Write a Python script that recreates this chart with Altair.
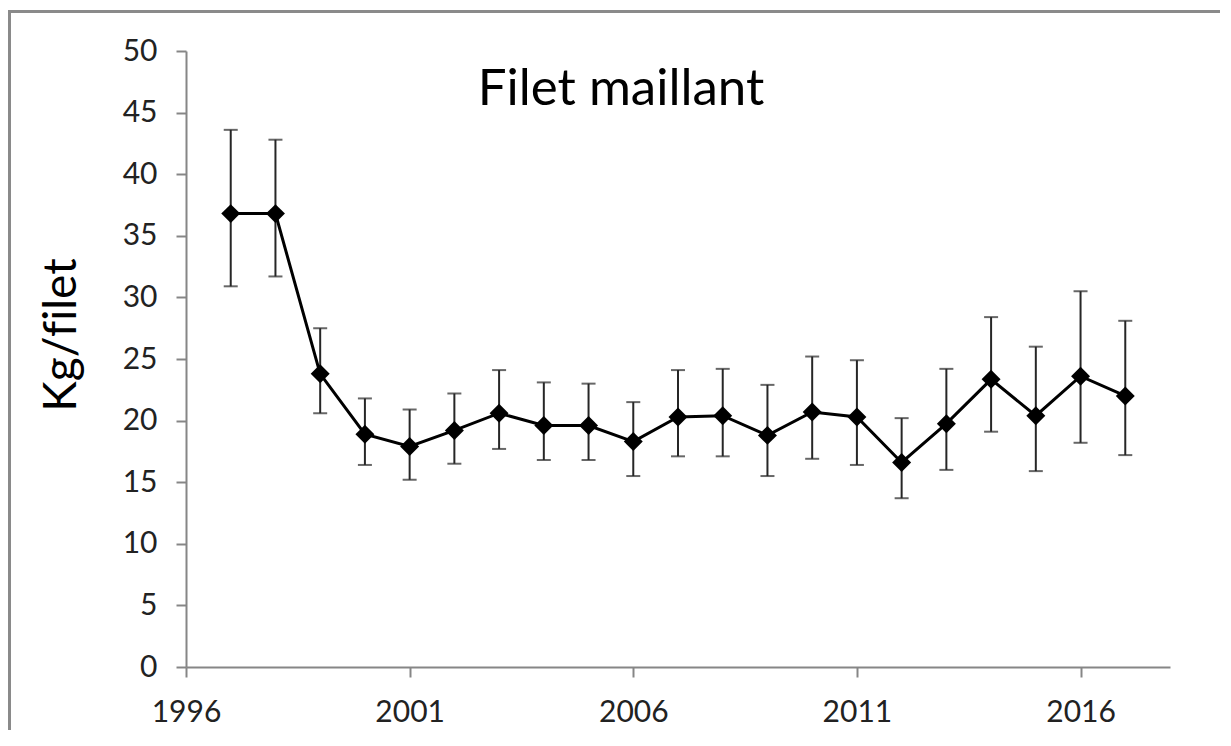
import altair as alt
import pandas as pd

# ---- data ----
years = [1997, 1998, 1999, 2000, 2001, 2002, 2003, 2004, 2005, 2006, 2007,
         2008, 2009, 2010, 2011, 2012, 2013, 2014, 2015, 2016, 2017]
values = [36.8, 36.8, 23.8, 18.9, 17.9, 19.2, 20.6, 19.6, 19.6, 18.3, 20.3,
          20.4, 18.8, 20.7, 20.3, 16.6, 19.75, 23.35, 20.4, 23.6, 22.0]
upper = [43.6, 42.8, 27.5, 21.8, 20.9, 22.2, 24.1, 23.1, 23.0, 21.5, 24.1,
         24.2, 22.9, 25.2, 24.9, 20.2, 24.2, 28.4, 26.0, 30.5, 28.1]
lower = [30.9, 31.7, 20.6, 16.4, 15.2, 16.5, 17.7, 16.8, 16.8, 15.5, 17.1,
         17.1, 15.5, 16.9, 16.4, 13.7, 16.0, 19.1, 15.9, 18.2, 17.2]
x_ticks = [1996, 2001, 2006, 2011, 2016]
y_ticks = [0, 5, 10, 15, 20, 25, 30, 35, 40, 45, 50]
# zero-width non-joiner keeps the browser from drawing an "fi" ligature
title_text = "Filet maillant"
y_title = "Kg/f\u200cilet"

df = pd.DataFrame({"year": years, "value": values, "upper": upper, "lower": lower})
one = pd.DataFrame({"k": [0]})

W, H = 984, 616
FONT = "Lato"

x_scale = alt.Scale(domain=[1996, 2018], nice=False, zero=False)
y_scale = alt.Scale(domain=[0, 50], nice=False)

x_enc = alt.X("year:Q", scale=x_scale,
              axis=alt.Axis(values=x_ticks, format="d", title=None, grid=False,
                            labelPadding=20, labelFlush=False))
y_enc = alt.Y("value:Q", scale=y_scale,
              axis=alt.Axis(values=y_ticks, title=None, grid=False, labelPadding=19,
                            labelFlush=False))

base = alt.Chart(df)

ERR = "#262626"
err = base.mark_rule(color=ERR, strokeWidth=2).encode(
    x=x_enc, y=alt.Y("lower:Q", scale=y_scale), y2="upper:Q")
cap_hi = base.mark_tick(color=ERR, orient="horizontal", size=14, thickness=2).encode(
    x=x_enc, y=alt.Y("upper:Q", scale=y_scale))
cap_lo = base.mark_tick(color=ERR, orient="horizontal", size=14, thickness=2).encode(
    x=x_enc, y=alt.Y("lower:Q", scale=y_scale))
line = base.mark_line(color="black", strokeWidth=3).encode(x=x_enc, y=y_enc)
pts = base.mark_point(shape="diamond", filled=True, size=360, color="black", opacity=1).encode(
    x=x_enc, y=y_enc)

title = alt.Chart(one).mark_text(font=FONT, fontSize=51, align="center",
                                 baseline="alphabetic", color="black").encode(
    x=alt.value(435), y=alt.value(54), text=alt.value(title_text))
ytitle = alt.Chart(one).mark_text(font=FONT, fontSize=46, align="center",
                                  baseline="middle", angle=270, color="black").encode(
    x=alt.value(-124), y=alt.value(284), text=alt.value(y_title))

border_left = alt.Chart(one).mark_rule(color="#8a8a8a", strokeWidth=3).encode(
    x=alt.value(-176.5), y=alt.value(-40), y2=alt.value(H + 120))
border_top = alt.Chart(one).mark_rule(color="#8a8a8a", strokeWidth=3).encode(
    x=alt.value(-178), x2=alt.value(W + 80), y=alt.value(-39.5))

chart = alt.layer(border_left, border_top, err, cap_hi, cap_lo, line, pts, title, ytitle).properties(
    width=W, height=H,
    autosize=alt.AutoSizeParams(type="none"),
    padding={"left": 178, "top": 43, "right": 1212 - 178 - W, "bottom": 722 - 43 - H},
    background="white",
).configure_view(stroke=None).configure_axis(
    domainColor="#868686", domainWidth=2, tickColor="#868686", tickWidth=2,
    tickSize=10, labelFont=FONT, labelFontSize=30, labelColor="#222222",
)

chart.save("out.html", embed_options={"renderer": "svg", "actions": False})
